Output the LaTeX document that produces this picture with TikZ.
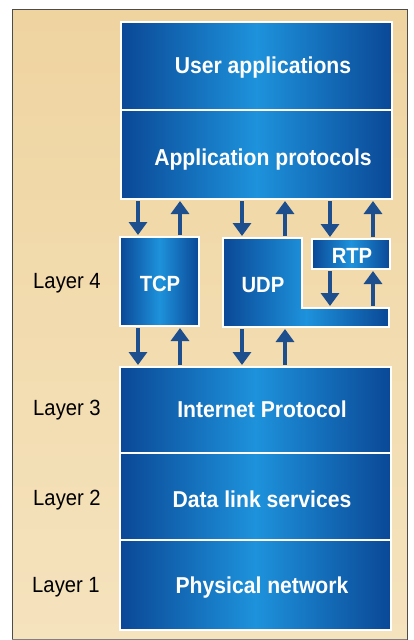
\documentclass[tikz,border=0pt]{standalone}
\usepackage{fontspec}
\setmainfont{Liberation Sans}
\newfontfamily\condsans[FakeStretch=0.92]{Liberation Sans}
\usetikzlibrary{arrows.meta}
\definecolor{bgtop}{HTML}{EFD4A0}
\definecolor{bgmid}{HTML}{FAF2E4}
\definecolor{bgbot}{HTML}{F5E3BE}
\definecolor{bdark}{HTML}{0A4896}
\definecolor{blight}{HTML}{1E92DC}
\definecolor{arrcol}{HTML}{1D4E8E}
\begin{document}
\begin{tikzpicture}[x=1pt,y=-1pt,
  blk/.style={draw=white, line width=1.3pt, left color=bdark, right color=bdark, middle color=blight, inner sep=0pt, outer sep=0pt},
  ghost/.style={draw=none, inner sep=0pt, outer sep=0pt},
  btxt/.style={text=white, font=\condsans\bfseries\fontsize{23}{23}\selectfont, anchor=base, inner sep=0pt},
  stxt/.style={text=white, font=\condsans\bfseries\fontsize{22}{22}\selectfont, anchor=base, inner sep=0pt},
  ltxt/.style={text=black, font=\condsans\fontsize{22}{22}\selectfont, anchor=base, inner sep=0pt},
  arr/.style={draw=arrcol, line width=4.5pt, -{Triangle[width=18pt,length=13pt]}, shorten <=2pt, shorten >=2pt}
]
\useasboundingbox (0,0) rectangle (414,640);
% background frame
\fill[white] (0,0) rectangle (414,640);
\shade[top color=bgtop, middle color=bgmid, bottom color=bgbot] (12,9) rectangle (407,645);
\draw[draw=black!70, line width=0.9pt] (12,645) -- (12,9) -- (407,9) -- (407,645);
\draw[draw=black!50, line width=0.8pt] (12,639) -- (407,639);

% boxes
\node[blk, minimum width=271pt, minimum height=88pt] (ua) at (256.5,66) {};
\node[blk, minimum width=271pt, minimum height=89pt] (ap) at (256.5,154.5) {};
\node[blk, minimum width=79pt, minimum height=89pt] (tcp) at (159.5,281.5) {};
\node[ghost, minimum width=79pt, minimum height=89pt] (udp) at (262.5,282.5) {};
\fill[left color=bdark, right color=bdark, middle color=blight, draw=white, line width=1.3pt]
  (udp.north west) -- (udp.north east) -- (302,308) -- (389,308) -- (389,327) -- (udp.south west) -- cycle;
\node[blk, minimum width=78pt, minimum height=30pt] (rtp) at (351,254) {};
\coordinate (notch) at (345,308);
\node[blk, minimum width=271pt, minimum height=86pt] (ip) at (255.5,410) {};
\node[blk, minimum width=271pt, minimum height=87pt] (dl) at (255.5,496.5) {};
\node[blk, minimum width=271pt, minimum height=90pt] (pn) at (255.5,585) {};

% box texts
\node[btxt] (uat) at (263,73) {User applications};
\node[btxt] (apt) at (263,165) {Application protocols};
\node[stxt] (tcpt) at (160,291) {TCP};
\node[stxt] (udpt) at (263,292) {UDP};
\node[stxt] (rtpt) at (352,263) {RTP};
\node[btxt] (ipt) at (262,417) {Internet Protocol};
\node[btxt] (dlt) at (262,507) {Data link services};
\node[btxt] (pnt) at (262,593) {Physical network};

% layer labels
\node[ltxt] (l4) at (67,288) {Layer 4};
\node[ltxt] (l3) at (67,415) {Layer 3};
\node[ltxt] (l2) at (67,505) {Layer 2};
\node[ltxt] (l1) at (66,592) {Layer 1};

% arrow columns
\coordinate (xa) at (138,0);
\coordinate (xb) at (180,0);
\coordinate (xc) at (242,0);
\coordinate (xd) at (285,0);
\coordinate (xe) at (330,0);
\coordinate (xf) at (373,0);

% application protocols <-> transport
\draw[arr] (xa |- ap.south) -- (xa |- tcp.north);
\draw[arr] (xb |- tcp.north) -- (xb |- ap.south);
\draw[arr] (xc |- ap.south) -- (xc |- udp.north);
\draw[arr] (xd |- udp.north) -- (xd |- ap.south);
\draw[arr] (xe |- ap.south) -- (xe |- rtp.north);
\draw[arr] (xf |- rtp.north) -- (xf |- ap.south);
% rtp <-> udp
\draw[arr] (xe |- rtp.south) -- (xe |- notch);
\draw[arr] (xf |- notch) -- (xf |- rtp.south);
% transport <-> IP
\draw[arr] (xa |- tcp.south) -- (xa |- ip.north);
\draw[arr] (xb |- ip.north) -- (xb |- tcp.south);
\draw[arr] (xc |- udp.south) -- (xc |- ip.north);
\draw[arr] (xd |- ip.north) -- (xd |- udp.south);
\end{tikzpicture}
\end{document}
